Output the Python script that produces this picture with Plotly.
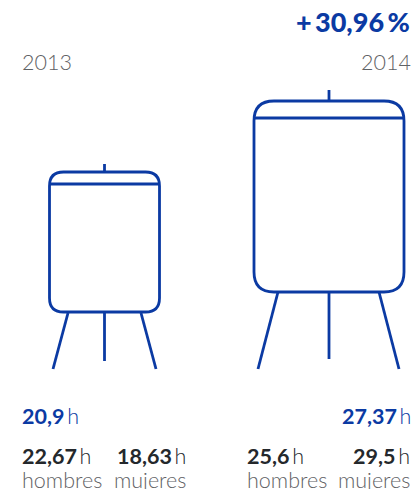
import plotly.graph_objects as go

years = ["2013", "2014"]
totals = ["20,9", "27,37"]
men = ["22,67", "25,6"]
women = ["18,63", "29,5"]
group_labels = ["hombres", "mujeres"]
change = "+\u200930,96\u2009%"

BLUE = "#0b3aa3"
DARK = "#24282c"
GRAY = "#5f6265"

# pictogram geometry, per easel, in picture pixels
easels = [
    dict(l=49.5, r=159.5, t=172, b=312, rad=14, bar=184, cx=104.5, ant=164,
         legs=[(68, 313, 53, 369), (104.5, 312, 104.5, 361), (141, 313, 156, 369)]),
    dict(l=254, r=404, t=101, b=292, rad=20, bar=118, cx=329, ant=90,
         legs=[(278, 292, 258, 369), (329, 292, 329, 359), (379, 292, 399, 369)]),
]

fig = go.Figure()
fig.add_trace(go.Scatter(x=[0, 414], y=[0, 489], mode="markers",
                         marker=dict(opacity=0), hoverinfo="skip", showlegend=False))

line = dict(color=BLUE, width=2.8)
for e in easels:
    l, r, t, b, q = e["l"], e["r"], e["t"], e["b"], e["rad"]
    path = (f"M{l+q},{t} L{r-q},{t} Q{r},{t} {r},{t+q} L{r},{b-q} Q{r},{b} {r-q},{b} "
            f"L{l+q},{b} Q{l},{b} {l},{b-q} L{l},{t+q} Q{l},{t} {l+q},{t} Z")
    fig.add_shape(type="path", path=path, line=line, xref="x", yref="y")
    fig.add_shape(type="line", x0=l, x1=r, y0=e["bar"], y1=e["bar"], line=line)
    fig.add_shape(type="line", x0=e["cx"], x1=e["cx"], y0=e["ant"], y1=t, line=line)
    for x0, y0, x1, y1 in e["legs"]:
        fig.add_shape(type="line", x0=x0, y0=y0, x1=x1, y1=y1, line=line)


def text(x, y, s, anchor, size, color, weight=400):
    fig.add_annotation(x=x, y=y, text=s, xref="x", yref="y", xanchor=anchor, yanchor="middle",
                       showarrow=False, borderpad=0, borderwidth=0,
                       font=dict(family="Lato", size=size, color=color, weight=weight))


def value(v):
    return f"<b>{v}</b><span style='font-weight:300'>\u2009h</span>"


text(410, 21, change, "right", 27, BLUE, 900)
text(22, 62, years[0], "left", 21.5, GRAY, 300)
text(411, 62, years[1], "right", 21.5, GRAY, 300)

text(22, 416, value(totals[0]), "left", 21.5, BLUE)
text(411, 416, value(totals[1]), "right", 21.5, BLUE)

text(22, 455.5, value(men[0]), "left", 21.5, DARK)
text(186, 455.5, value(women[0]), "right", 21.5, DARK)
text(247, 455.5, value(men[1]), "left", 21.5, DARK)
text(410, 455.5, value(women[1]), "right", 21.5, DARK)

text(22, 480, group_labels[0], "left", 21.5, GRAY, 300)
text(186, 480, group_labels[1], "right", 21.5, GRAY, 300)
text(247, 480, group_labels[0], "left", 21.5, GRAY, 300)
text(410, 480, group_labels[1], "right", 21.5, GRAY, 300)

fig.update_layout(
    width=414, height=489, margin=dict(l=0, r=0, t=0, b=0),
    paper_bgcolor="white", plot_bgcolor="white", showlegend=False,
    xaxis=dict(range=[0, 414], visible=False, fixedrange=True),
    yaxis=dict(range=[489, 0], visible=False, fixedrange=True),
)
fig.write_html("out.html", config={"displayModeBar": False},
               post_script="document.body.style.margin='0';document.body.style.overflow='hidden';")
